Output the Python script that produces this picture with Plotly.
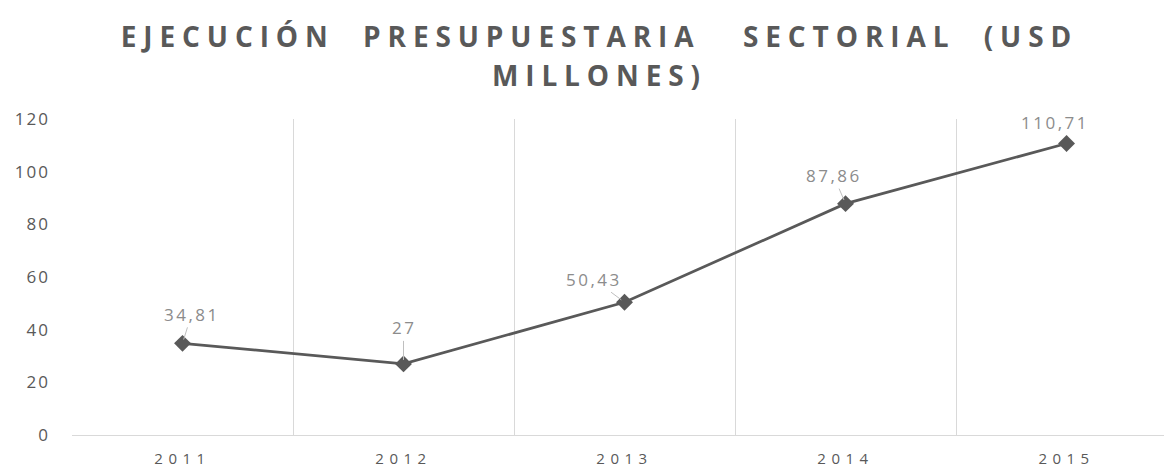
import plotly.graph_objects as go

years = ["2011", "2012", "2013", "2014", "2015"]
values = [34.81, 27, 50.43, 87.86, 110.71]
labels = ["34,81", "27", "50,43", "87,86", "110,71"]
y_ticks = [0, 20, 40, 60, 80, 100, 120]

# label offsets (pixels) relative to each point
label_dx = [9, 0, -31, -12, -12]
label_dy = [-29, -36, -23, -28, -21]
label_leader = [True, True, True, True, False]

DARK = "#595959"
LABEL = "#8c8c8c"
GRID = "#d9d9d9"
FONT = "Open Sans"

fig = go.Figure()
fig.add_trace(go.Scatter(
    x=years, y=values, mode="lines+markers",
    line=dict(color=DARK, width=2.75),
    marker=dict(symbol="diamond", size=13, color=DARK),
    hoverinfo="skip", showlegend=False,
))

annotations = []
for i, (v, lab, dx, dy, lead) in enumerate(zip(values, labels, label_dx, label_dy, label_leader)):
    txt = f'<span style="letter-spacing:2.5px">{lab}</span>'
    if lead:
        annotations.append(dict(xref="x", yref="y", x=i, y=v, text=txt,
                                showarrow=True, ax=dx, ay=dy,
                                arrowhead=0, arrowwidth=1, arrowcolor="#bfbfbf",
                                standoff=4,
                                font=dict(family=FONT, size=17, color=LABEL)))
    else:
        annotations.append(dict(xref="x", yref="y", x=i, y=v, text=txt,
                                showarrow=False, xshift=dx, yshift=-dy,
                                font=dict(family=FONT, size=17, color=LABEL)))

title_lines = ["EJECUCIÓN  PRESUPUESTARIA   SECTORIAL  (USD", "MILLONES)"]
title_text = "<br>".join(
    f'<span style="letter-spacing:6.9px;font-size:28px">{t}</span>' for t in title_lines)

fig.update_layout(
    width=1164, height=468,
    margin=dict(l=72, r=0, t=119, b=28),
    paper_bgcolor="white", plot_bgcolor="white",
    title=dict(text=f"<b>{title_text}</b>", x=0.515, xanchor="center",
               y=0.899, yanchor="top", yref="container",
               font=dict(family=FONT, size=30, color=DARK)),
    font=dict(family=FONT, color=DARK),
    annotations=annotations,
)
fig.update_xaxes(
    type="category", range=[-0.5, 4.441],
    tickmode="array", tickvals=years,
    ticktext=[f'<span style="letter-spacing:5.5px">{y}</span>' for y in years],
    tickson="boundaries", showgrid=True, gridcolor=GRID, gridwidth=1,
    showline=True, linecolor=GRID, linewidth=1, ticks="",
    tickfont=dict(family=FONT, size=15, color=DARK), ticklabelstandoff=10,
    zeroline=False,
)
fig.update_yaxes(
    range=[0, 120], tickmode="array", tickvals=y_ticks,
    ticktext=[f'<span style="letter-spacing:2px">{t}</span>' for t in y_ticks],
    showgrid=False, zeroline=False, showline=False, ticks="",
    tickfont=dict(family=FONT, size=17, color=DARK), ticklabelstandoff=21,
)

page_fix = (
    "document.body.style.margin='0';"
    "document.body.style.height='468px';"
    "document.body.style.overflow='hidden';"
    "document.documentElement.style.overflow='hidden';"
)
fig.write_html("out.html", config={"displayModeBar": False}, post_script=page_fix)
